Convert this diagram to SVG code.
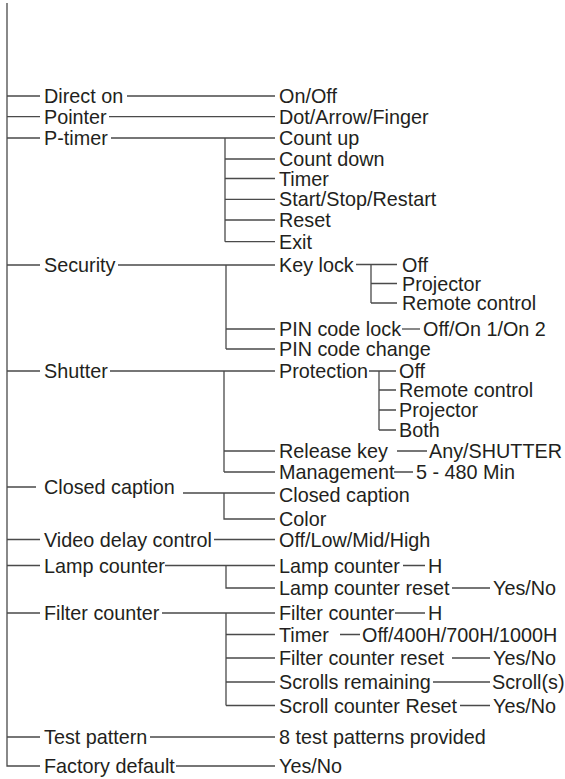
<svg xmlns="http://www.w3.org/2000/svg" width="565" height="779" viewBox="0 0 565 779">
<style>
text{font-family:"Liberation Sans",Arial,sans-serif;font-size:19.8px;fill:#231f20}
.c path{fill:none;stroke:#4a4a4a;stroke-width:1.3}
</style>
<rect width="565" height="779" fill="#fff"/>
<g class="c" id="connectors">
<path d="M7 3V766H40"/>
<path d="M7 96H40M7 116.7H40M7 138H40M7 265H40M7 371H40M7 487H36M7 539.5H40M7 565.5H40M7 613H40M7 737H40"/>
<path d="M127 96H275M109 116.7H275M111 138H275"/>
<path d="M225 138V241.7M225 159H275M225 178.5H275M225 199.3H275M225 220H275M225 241.7H275"/>
<path d="M118 265H275M226 265V349M226 329H275M226 349H275"/>
<path d="M356 264.5H397M371 264.5V303M371 283.5H397M371 303H397"/>
<path d="M402 329H420"/>
<path d="M110 371H275M224 371V472M224 451H275M224 472H275"/>
<path d="M369 371H396M379 371V430M379 390H396M379 410H396M379 430H396"/>
<path d="M397 451H427M394 472H413"/>
<path d="M183 493H275M224 493V519H275"/>
<path d="M214 539.5H275"/>
<path d="M165 565.5H275M226 565.5V588H275M403 565.5H425M452 588H490"/>
<path d="M162 613H275M226 613V705.5M226 634.5H275M226 658H275M226 682H275M226 705.5H275"/>
<path d="M395 613H425M340 634.5H360M452 658H490M433 682H490M460 705.5H490"/>
<path d="M150 737H275M176 766H275"/>
</g>
<g id="n-direct-on"><text x="44" y="103">Direct on</text></g>
<g id="n-on-off"><text x="279" y="103">On/Off</text></g>
<g id="n-pointer"><text x="44" y="123.7">Pointer</text></g>
<g id="n-dot"><text x="279" y="123.7">Dot/Arrow/Finger</text></g>
<g id="n-ptimer"><text x="44" y="145">P-timer</text></g>
<g id="n-countup"><text x="279" y="145.3">Count up</text></g>
<g id="n-countdown"><text x="279" y="166">Count down</text></g>
<g id="n-timer"><text x="279" y="185.5">Timer</text></g>
<g id="n-start"><text x="279" y="206.3">Start/Stop/Restart</text></g>
<g id="n-reset"><text x="279" y="227">Reset</text></g>
<g id="n-exit"><text x="279" y="248.7">Exit</text></g>
<g id="n-security"><text x="44" y="272">Security</text></g>
<g id="n-keylock"><text x="279" y="271.5">Key lock</text></g>
<g id="n-kl-off"><text x="402" y="271.5">Off</text></g>
<g id="n-kl-proj"><text x="402" y="290.5">Projector</text></g>
<g id="n-kl-rc"><text x="402" y="310">Remote control</text></g>
<g id="n-pinlock"><text x="279" y="336">PIN code lock</text></g>
<g id="n-pinlock-v"><text x="423" y="336">Off/On 1/On 2</text></g>
<g id="n-pinchange"><text x="279" y="356">PIN code change</text></g>
<g id="n-shutter"><text x="44" y="378">Shutter</text></g>
<g id="n-protection"><text x="279" y="378">Protection</text></g>
<g id="n-pr-off"><text x="399" y="378">Off</text></g>
<g id="n-pr-rc"><text x="399" y="397">Remote control</text></g>
<g id="n-pr-proj"><text x="399" y="417">Projector</text></g>
<g id="n-pr-both"><text x="399" y="437">Both</text></g>
<g id="n-release"><text x="279" y="458">Release key</text></g>
<g id="n-release-v"><text x="429" y="458">Any/SHUTTER</text></g>
<g id="n-mgmt"><text x="279" y="479.3">Management</text></g>
<g id="n-mgmt-v"><text x="416" y="479.3">5 - 480 Min</text></g>
<g id="n-cc"><text x="44" y="494">Closed caption</text></g>
<g id="n-cc-sub"><text x="279" y="501.5">Closed caption</text></g>
<g id="n-color"><text x="279" y="526">Color</text></g>
<g id="n-video"><text x="44" y="546.5">Video delay control</text></g>
<g id="n-video-v"><text x="279" y="547">Off/Low/Mid/High</text></g>
<g id="n-lamp"><text x="44" y="572.5">Lamp counter</text></g>
<g id="n-lamp-sub"><text x="279" y="572.5">Lamp counter</text></g>
<g id="n-lamp-h"><text x="428" y="572.5">H</text></g>
<g id="n-lamp-reset"><text x="279" y="595">Lamp counter reset</text></g>
<g id="n-lamp-reset-v"><text x="493" y="595">Yes/No</text></g>
<g id="n-filter"><text x="44" y="620">Filter counter</text></g>
<g id="n-filter-sub"><text x="279" y="620">Filter counter</text></g>
<g id="n-filter-h"><text x="428" y="620">H</text></g>
<g id="n-ftimer"><text x="279" y="641.5">Timer</text></g>
<g id="n-ftimer-v"><text x="362" y="641.5">Off/400H/700H/1000H</text></g>
<g id="n-freset"><text x="279" y="665">Filter counter reset</text></g>
<g id="n-freset-v"><text x="493" y="665">Yes/No</text></g>
<g id="n-scrolls"><text x="279" y="689">Scrolls remaining</text></g>
<g id="n-scrolls-v"><text x="492" y="689">Scroll(s)</text></g>
<g id="n-scrollreset"><text x="279" y="712.5">Scroll counter Reset</text></g>
<g id="n-scrollreset-v"><text x="493" y="712.5">Yes/No</text></g>
<g id="n-test"><text x="44" y="744">Test pattern</text></g>
<g id="n-test-v"><text x="279" y="744">8 test patterns provided</text></g>
<g id="n-factory"><text x="44" y="773">Factory default</text></g>
<g id="n-factory-v"><text x="279" y="773">Yes/No</text></g>
</svg>
